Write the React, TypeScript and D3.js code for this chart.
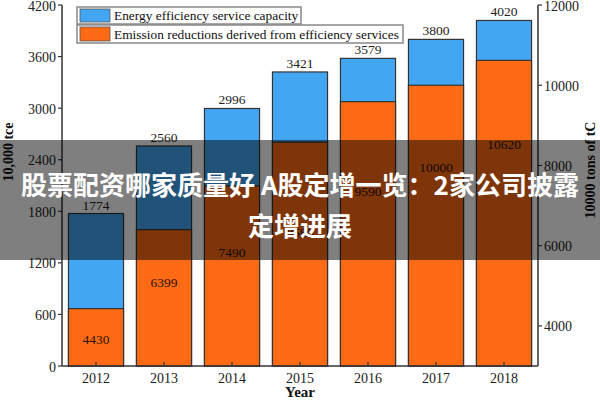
import React from "react";
import * as d3 from "d3";

const years = ["2012", "2013", "2014", "2015", "2016", "2017", "2018"];
const capacity = [1774, 2560, 2996, 3421, 3579, 3800, 4020];
const reductions = [4430, 6399, 7490, 8580, 9590, 10000, 10620];
// label anchor values on the right axis (where the reduction numbers sit)
const reductionLabelAt = [3650, 5070, 5840, 6340, 7340, 7960, 8510];
const leftTicks = [0, 600, 1200, 1800, 2400, 3000, 3600, 4200];
const rightTicks = [4000, 6000, 8000, 10000, 12000];
const legendLabels = [
  "Energy efficiency service capacity",
  "Emission reductions derived from efficiency services",
];
const bannerLines = ["股票配资哪家质量好 A股定增一览：2家公司披露", "定增进展"];

const W = 600;
const H = 400;
const M = { left: 62, right: 62, top: 5, bottom: 34 };
const BLUE = "#43a6f3";
const ORANGE = "#ff6a14";
const SERIF = "'Liberation Serif', 'Times New Roman', serif";

export default function App() {
  const x = d3
    .scaleBand<string>()
    .domain(years)
    .range([M.left, W - M.right])
    .paddingInner(0.19)
    .paddingOuter(0.095);
  const yL = d3.scaleLinear().domain([0, 4200]).range([H - M.bottom, M.top]);
  const yR = d3.scaleLinear().domain([3000, 12000]).range([H - M.bottom, M.top]);
  const y0 = H - M.bottom;
  const bw = x.bandwidth();
  const axisColor = "#333";

  return (
    <svg
      width={W}
      height={H}
      style={{ position: "absolute", left: 0, top: 0, background: "#fff" }}
      fontFamily={SERIF}
    >
      {/* bars */}
      {years.map((yr, i) => (
        <g key={yr}>
          <rect
            x={x(yr)}
            y={yL(capacity[i])}
            width={bw}
            height={y0 - yL(capacity[i])}
            fill={BLUE}
            stroke="#333"
            strokeWidth={1.2}
          />
          <rect
            x={x(yr)}
            y={yR(reductions[i])}
            width={bw}
            height={y0 - yR(reductions[i])}
            fill={ORANGE}
            stroke="#333"
            strokeWidth={1.2}
          />
          <text
            x={(x(yr) as number) + bw / 2}
            y={yL(capacity[i]) - 4}
            textAnchor="middle"
            fontSize={13.5}
            fill="#222"
          >
            {capacity[i]}
          </text>
          <text
            x={(x(yr) as number) + bw / 2}
            y={yR(reductionLabelAt[i])}
            textAnchor="middle"
            dominantBaseline="central"
            fontSize={13.5}
            fill="#2a1200"
          >
            {reductions[i]}
          </text>
          {/* inward x tick */}
          <line
            x1={(x(yr) as number) + bw / 2}
            x2={(x(yr) as number) + bw / 2}
            y1={y0}
            y2={y0 - 4}
            stroke={axisColor}
            strokeWidth={1.2}
          />
          <text
            x={(x(yr) as number) + bw / 2}
            y={y0 + 17}
            textAnchor="middle"
            fontSize={14}
            fill="#222"
          >
            {yr}
          </text>
        </g>
      ))}

      {/* axes lines */}
      <line x1={M.left} x2={M.left} y1={M.top} y2={y0} stroke={axisColor} strokeWidth={1.5} />
      <line x1={W - M.right} x2={W - M.right} y1={M.top} y2={y0} stroke={axisColor} strokeWidth={1.5} />
      <line x1={M.left} x2={W - M.right} y1={y0} y2={y0} stroke={axisColor} strokeWidth={1.5} />

      {leftTicks.map((t) => (
        <g key={"l" + t}>
          <line x1={M.left - 4} x2={M.left} y1={yL(t)} y2={yL(t)} stroke={axisColor} strokeWidth={1.2} />
          <text
            x={M.left - 6}
            y={yL(t) + 1}
            textAnchor="end"
            dominantBaseline="central"
            fontSize={14}
            fill="#222"
          >
            {t}
          </text>
        </g>
      ))}
      {rightTicks.map((t) => (
        <g key={"r" + t}>
          <line
            x1={W - M.right}
            x2={W - M.right + 4}
            y1={yR(t)}
            y2={yR(t)}
            stroke={axisColor}
            strokeWidth={1.2}
          />
          <text
            x={W - M.right + 6}
            y={yR(t) + 1}
            dominantBaseline="central"
            fontSize={14}
            fill="#222"
          >
            {t}
          </text>
        </g>
      ))}

      {/* axis titles */}
      <text x={300} y={397} textAnchor="middle" fontSize={15} fontWeight="bold" fill="#111">
        Year
      </text>
      <text
        transform={`translate(13,152) rotate(-90)`}
        textAnchor="middle"
        fontSize={14}
        fontWeight="bold"
        fill="#111"
      >
        10,000 tce
      </text>
      <text
        transform={`translate(590,170) rotate(-90)`}
        textAnchor="middle"
        dominantBaseline="central"
        fontSize={14}
        fontWeight="bold"
        fill="#111"
      >
        10000 tons of tC
      </text>

      {/* legend */}
      <g>
        <rect x={77} y={7} width={224} height={17} fill="#fff" stroke="#888" strokeWidth={1.5} />
        <rect x={80} y={9} width={30} height={13} fill={BLUE} stroke="#555" strokeWidth={0.8} />
        <text x={114} y={20} fontSize={13.4} fill="#111">
          {legendLabels[0]}
        </text>
        <rect x={77} y={25} width={326} height={18} fill="#fff" stroke="#888" strokeWidth={1.5} />
        <rect x={80} y={27} width={30} height={14} fill={ORANGE} stroke="#555" strokeWidth={0.8} />
        <text x={114} y={38.5} fontSize={13.4} fill="#111">
          {legendLabels[1]}
        </text>
      </g>

      {/* overlay banner */}
      <rect x={0} y={140} width={W} height={120} fill="rgba(0,0,0,0.5)" />
      {bannerLines.map((l, i) => (
        <text
          key={i}
          x={300}
          y={183 + i * 41}
          textAnchor="middle"
          dominantBaseline="central"
          fontSize={26}
          fontWeight="bold"
          fill="#fff"
          fontFamily="'Noto Sans CJK SC', 'Noto Sans', sans-serif"
        >
          {l}
        </text>
      ))}
    </svg>
  );
}
